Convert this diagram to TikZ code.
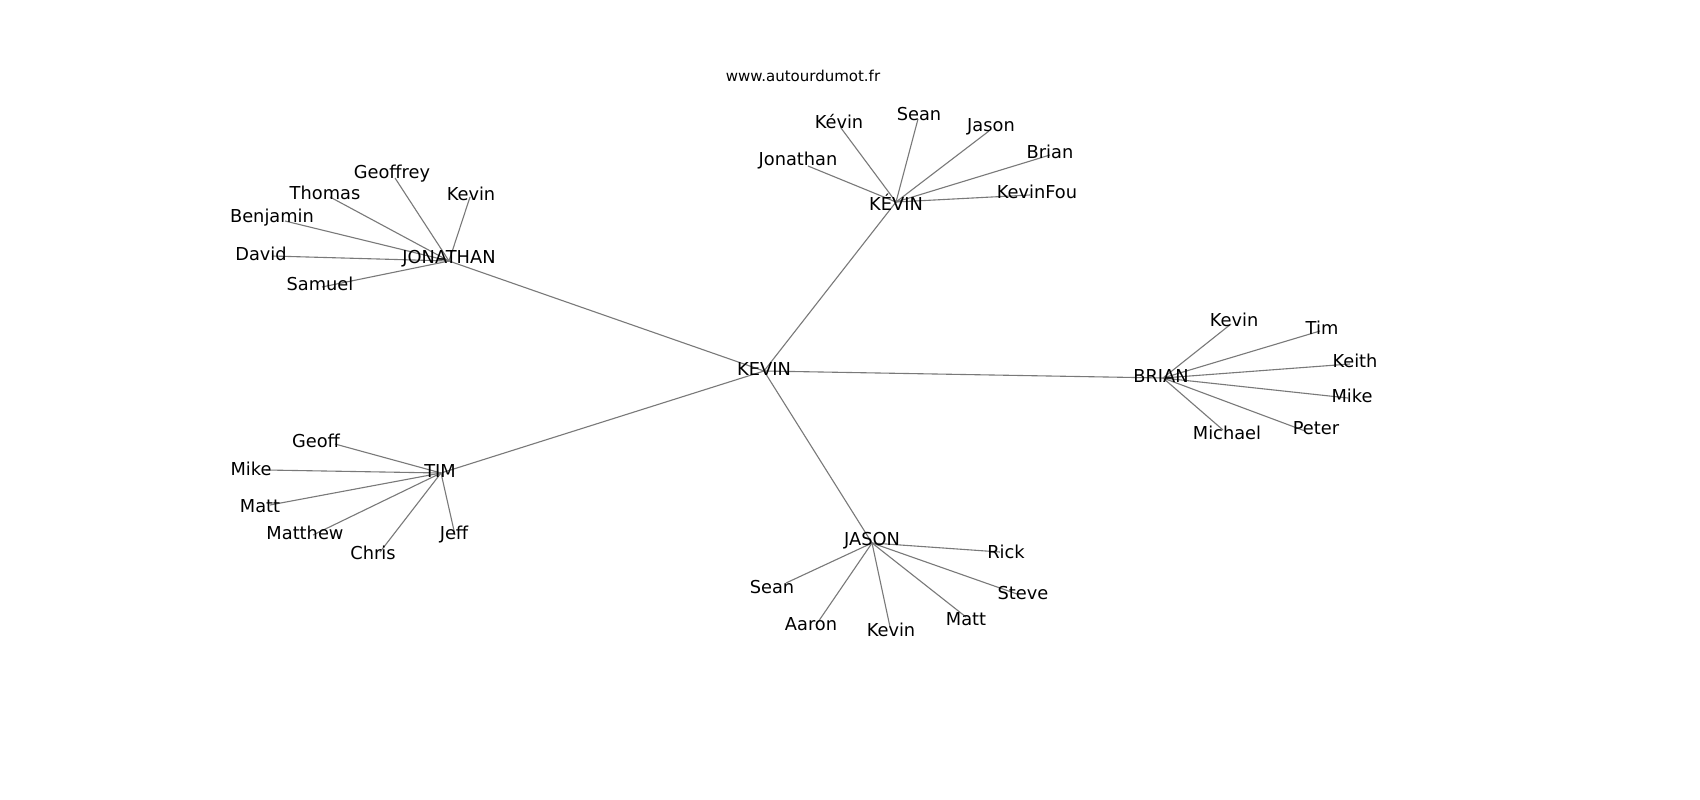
\documentclass[tikz,border=0pt]{standalone}
\usepackage{fontspec}
\setmainfont{DejaVu Sans}
\begin{document}
\begin{tikzpicture}[x=1pt,y=-1pt,
  lbl/.style={inner sep=0pt,anchor=center,font=\fontsize{17.8}{20}\selectfont,text=black},
  ttl/.style={inner sep=0pt,anchor=center,font=\fontsize{15}{18}\selectfont,text=black},
  edge/.style={draw=gray!95!black,line width=1.1pt}]
\fill[white] (0,0) rectangle (1700,800);
\useasboundingbox (0,0) rectangle (1700,800);
% hubs
\coordinate (kevin) at (764,371);
\coordinate (jonathan) at (449,261);
\coordinate (kevinacc) at (896,202);
\coordinate (brian) at (1163,378);
\coordinate (tim) at (441,473);
\coordinate (jason) at (872,543);
% JONATHAN leaves
\coordinate (j1) at (395,178);
\coordinate (j2) at (330,197);
\coordinate (j3) at (470,197);
\coordinate (j4) at (285,221);
\coordinate (j5) at (272,256);
\coordinate (j6) at (322,287);
% KEVIN accent leaves
\coordinate (k1) at (841,128);
\coordinate (k2) at (918,119);
\coordinate (k3) at (989,131);
\coordinate (k4) at (1050,155);
\coordinate (k5) at (808,166);
\coordinate (k6) at (1030,195);
% BRIAN leaves
\coordinate (b1) at (1231,324);
\coordinate (b2) at (1320,331);
\coordinate (b3) at (1350,364);
\coordinate (b4) at (1348,398);
\coordinate (b5) at (1305,431);
\coordinate (b6) at (1223,430);
% TIM leaves
\coordinate (t1) at (335,444);
\coordinate (t2) at (266,470);
\coordinate (t3) at (270,505);
\coordinate (t4) at (313,535);
\coordinate (t5) at (380,552);
\coordinate (t6) at (455,535);
% JASON leaves
\coordinate (s1) at (1000,552);
\coordinate (s2) at (786,583);
\coordinate (s3) at (1017,594);
\coordinate (s4) at (966,617);
\coordinate (s5) at (816,625);
\coordinate (s6) at (890,627);
% edges
\foreach \h in {jonathan,kevinacc,brian,tim,jason}{\draw[edge] (kevin) -- (\h);}
\foreach \l in {j1,j2,j3,j4,j5,j6}{\draw[edge] (jonathan) -- (\l);}
\foreach \l in {k1,k2,k3,k4,k5,k6}{\draw[edge] (kevinacc) -- (\l);}
\foreach \l in {b1,b2,b3,b4,b5,b6}{\draw[edge] (brian) -- (\l);}
\foreach \l in {t1,t2,t3,t4,t5,t6}{\draw[edge] (tim) -- (\l);}
\foreach \l in {s1,s2,s3,s4,s5,s6}{\draw[edge] (jason) -- (\l);}
% labels
\node[ttl] (title) at (803,76) {www.autourdumot.fr};
\node[lbl] (Lkevin) at (764,369) {KEVIN};
\node[lbl] (Ljonathan) at (449,259) {JONATHAN};
\node[lbl] (Lkevinacc) at (896,202) {KÉVIN};
\node[lbl] (Lbrian) at (1161,376) {BRIAN};
\node[lbl] (Ltim) at (440,471) {TIM};
\node[lbl] (Ljason) at (872,541) {JASON};
\node[lbl] (Lj1) at (392,174) {Geoffrey};
\node[lbl] (Lj2) at (325,193) {Thomas};
\node[lbl] (Lj3) at (471,194) {Kevin};
\node[lbl] (Lj4) at (272,218) {Benjamin};
\node[lbl] (Lj5) at (261,254) {David};
\node[lbl] (Lj6) at (320,284) {Samuel};
\node[lbl] (Lk1) at (839,122) {Kévin};
\node[lbl] (Lk2) at (919,114) {Sean};
\node[lbl] (Lk3) at (991,127) {Jason};
\node[lbl] (Lk4) at (1050,152) {Brian};
\node[lbl] (Lk5) at (798,161) {Jonathan};
\node[lbl] (Lk6) at (1037,192) {KevinFou};
\node[lbl] (Lb1) at (1234,320) {Kevin};
\node[lbl] (Lb2) at (1322,328) {Tim};
\node[lbl] (Lb3) at (1355,361) {Keith};
\node[lbl] (Lb4) at (1352,396) {Mike};
\node[lbl] (Lb5) at (1316,428) {Peter};
\node[lbl] (Lb6) at (1227,433) {Michael};
\node[lbl] (Lt1) at (316,441) {Geoff};
\node[lbl] (Lt2) at (251,469) {Mike};
\node[lbl] (Lt3) at (260,506) {Matt};
\node[lbl] (Lt4) at (305,533) {Matthew};
\node[lbl] (Lt5) at (373,553) {Chris};
\node[lbl] (Lt6) at (454,535) {Jeff};
\node[lbl] (Ls1) at (1006,552) {Rick};
\node[lbl] (Ls2) at (772,587) {Sean};
\node[lbl] (Ls3) at (1023,593) {Steve};
\node[lbl] (Ls4) at (966,619) {Matt};
\node[lbl] (Ls5) at (811,624) {Aaron};
\node[lbl] (Ls6) at (891,630) {Kevin};
\end{tikzpicture}
\end{document}
